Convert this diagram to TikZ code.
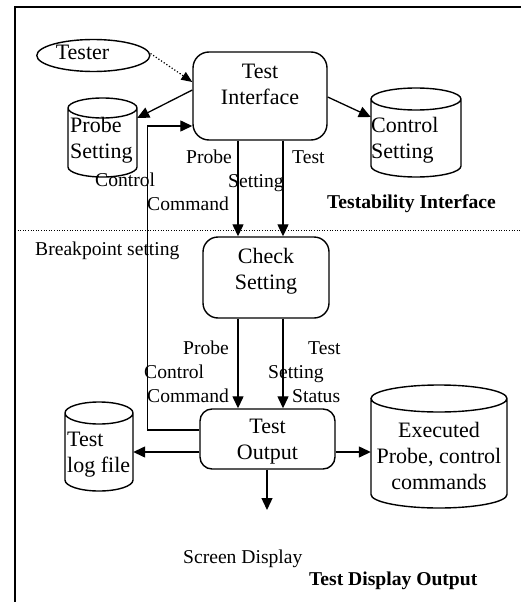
\documentclass[tikz,border=0pt]{standalone}
\usepackage{fontspec}
\setmainfont{Liberation Serif}
\usetikzlibrary{arrows.meta,shapes.geometric}
\newcommand\dbcyl[6]{% name, x1, x2, ytop, ybot, ry (pixel units, y downwards)
  \node[inner sep=0pt,minimum width={(#3-#2)*1pt},minimum height={(#5-#4)*1pt}] (#1) at ({(#2+#3)/2},{-(#4+#5)/2}) {};
  \draw[cyl] (#2,{-(#4+#6)}) -- (#2,{-(#5-#6)})
    arc[start angle=180,end angle=360,x radius={(#3-#2)/2},y radius=#6]
    -- (#3,{-(#4+#6)})
    arc[start angle=0,end angle=360,x radius={(#3-#2)/2},y radius=#6];
}
\begin{document}
\begin{tikzpicture}[x=1pt,y=1pt,
  box/.style={draw,line width=1.4pt,inner sep=0pt},
  cyl/.style={draw,line width=1.4pt},
  arr/.style={line width=1.3pt,-{Triangle[length=12pt,width=11pt]}},
  big/.style={inner sep=0pt,font=\fontsize{22}{26}\selectfont},
  small/.style={inner sep=0pt,font=\fontsize{19.6}{23.5}\selectfont,anchor=base west},
  sep/.style={line width=1pt,dash pattern=on 1pt off 1.6pt}
]
\useasboundingbox (0,0) rectangle (521,-602);
% frame
\draw[line width=1.5pt] (15,-602) -- (15,-7) -- (521,-7);
% separator
\draw[sep] (15,-230) -- (521,-230);

% process boxes
\node[box,rounded corners=16pt,minimum width=134pt,minimum height=88pt] (ti) at (260,-96) {};
\node[big,align=center,anchor=north] (tit) at (260,-63.4) {Test\\Interface};
\node[box,rounded corners=15pt,minimum width=126pt,minimum height=81pt] (cs) at (266,-277.5) {};
\node[big,align=center,anchor=north] (cst) at (266,-248.4) {Check\\Setting};
\node[box,rounded corners=12pt,minimum width=135pt,minimum height=60pt] (to) at (267.5,-439) {};
\node[big,align=center,anchor=north] (tot) at (267.5,-418.4) {Test\\Output};

% tester
\node[draw,ellipse,line width=1.4pt,inner sep=0pt,minimum width=113pt,minimum height=32pt] (tester) at (93.3,-55.5) {};
\node[big,anchor=base] (testert) at (82.5,-59.5) {Tester};

% data stores
\dbcyl{ps}{68}{137}{98}{177}{10}
\node[big,align=left,anchor=north west] (pst) at (70,-117.4) {Probe\\Setting};
\dbcyl{csg}{371}{461}{88}{177}{11}
\node[big,align=left,anchor=north west] (csgt) at (371,-117.4) {Control\\Setting};
\dbcyl{log}{65}{133}{402}{491}{11}
\node[big,align=left,anchor=north west] (logt) at (67,-431.4) {Test\\log file};
\dbcyl{ex}{371}{507}{385}{508}{13.5}
\node[big,align=center,anchor=north] (ext) at (439,-422.5) {Executed\\Probe, control\\commands};

% connectors
\draw[line width=1.2pt,dotted,-{Triangle[length=11pt,width=9pt]}] ([yshift=2pt]tester.east) -- ([yshift=14pt]ti.west);
\draw[arr] ([yshift=6pt]ti.west) -- ([yshift=19.5pt]ps.east);
\draw[arr] ([yshift=-1pt]ti.east) -- ([yshift=15.5pt]csg.west);
\draw[arr] ([xshift=-22pt]ti.south) -- ([xshift=-22pt]ti.south |- cs.north);
\draw[arr] ([xshift=23pt]ti.south) -- ([xshift=23pt]ti.south |- cs.north);
\draw[arr] ([xshift=-28pt]cs.south) -- ([xshift=-28pt]cs.south |- to.north);
\draw[arr] ([xshift=17pt]cs.south) -- ([xshift=17pt]cs.south |- to.north);
\draw[arr] ([yshift=9pt]to.west) -- ++(-52,0) |- ([yshift=-30pt]ti.west);
\draw[arr] ([yshift=-13pt]to.west) -- ([yshift=-13pt]to.west -| log.east);
\draw[arr] ([yshift=-13pt]to.east) -- ([yshift=-13pt]to.east -| ex.west);
\coordinate (scr) at (267,-510);
\draw[arr] (to.south -| scr) -- (scr);

% labels
\node[small] (l1) at (186,-163) {Probe};
\node[small] (l2) at (292,-163) {Test};
\node[small] (l3) at (95,-186) {Control};
\node[small] (l4) at (228,-187) {Setting};
\node[small] (l5) at (147,-210) {Command};
\node[small,font=\fontsize{19.6}{23.5}\selectfont\bfseries] (l6) at (327,-208) {Testability Interface};
\node[small] (l7) at (35,-255) {Breakpoint setting};
\node[small] (l8) at (183,-354) {Probe};
\node[small] (l9) at (308,-354) {Test};
\node[small] (l10) at (144,-378) {Control};
\node[small] (l11) at (268,-378) {Setting};
\node[small] (l12) at (147,-402) {Command};
\node[small] (l13) at (292,-402) {Status};
\node[small] (l14) at (183,-563) {Screen Display};
\node[small,font=\fontsize{19.6}{23.5}\selectfont\bfseries] (l15) at (309,-585) {Test Display Output};
\end{tikzpicture}
\end{document}
